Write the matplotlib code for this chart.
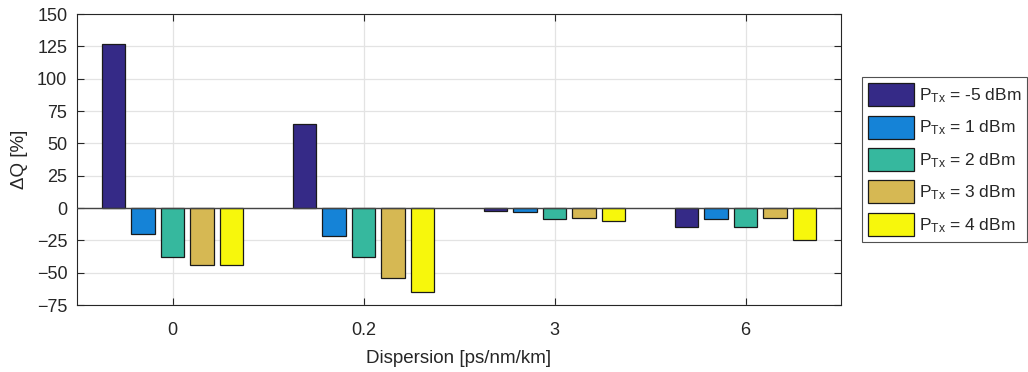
import numpy as np
import matplotlib.pyplot as plt

plt.rcParams['font.family'] = ['Liberation Sans', 'DejaVu Sans']
plt.rcParams['mathtext.fontset'] = 'custom'
plt.rcParams['mathtext.rm'] = 'Liberation Sans'
plt.rcParams['mathtext.it'] = 'Liberation Sans:italic'

# data
dispersion = ['0', '0.2', '3', '6']
ptx_labels = ['-5', '1', '2', '3', '4']
dq_m5 = [127, 65, -2.6, -14.7]
dq_1 = [-20, -22, -2.8, -8.2]
dq_2 = [-38, -38, -8.2, -14.7]
dq_3 = [-44, -54, -7.5, -7.5]
dq_4 = [-44, -65, -10, -24.5]
series = [dq_m5, dq_1, dq_2, dq_3, dq_4]
colors = ['#352a87', '#1583d7', '#36b89e', '#d6b853', '#f7f70c']

txt = '#262626'
fig = plt.figure(figsize=(10.28, 3.72), dpi=100)
ax = fig.add_axes([77 / 1028, 1 - 305 / 372, (841 - 77) / 1028, (305 - 14) / 372])

x = np.arange(len(dispersion))
step = 0.154
width = 0.122
for i, (vals, c) in enumerate(zip(series, colors)):
    ax.bar(x + (i - 2) * step, vals, width, color=c, edgecolor='#1a1a1a',
           linewidth=0.9, zorder=3,
           label=r'P$_{\mathrm{Tx}}$ = ' + ptx_labels[i] + ' dBm')

ax.axhline(0, color='#444444', linewidth=1.0, zorder=4)
ax.set_xlim(-0.5, 3.5)
ax.set_ylim(-75, 150)
ax.set_yticks(np.arange(-75, 151, 25))
ax.set_xticks(x)
ax.set_xticklabels(dispersion)
ax.grid(True, color='#e3e3e3', linewidth=0.9, zorder=0)
ax.set_axisbelow(True)
ax.tick_params(axis='both', direction='in', labelsize=13, colors=txt,
               length=5, width=0.8, top=True, right=True, pad=7)
ax.tick_params(axis='x', pad=12)
for s in ax.spines.values():
    s.set_color('#262626')
    s.set_linewidth(0.8)
ax.set_xlabel('Dispersion [ps/nm/km]', fontsize=13.5, color=txt, labelpad=8)
ax.set_ylabel('ΔQ [%]', fontsize=13.5, color=txt, labelpad=6)

leg = ax.legend(loc='upper left', bbox_to_anchor=(1.028, 0.783), fontsize=12.5,
                frameon=True, fancybox=False, edgecolor='#262626',
                handlelength=2.65, handleheight=1.65, handletextpad=0.25,
                labelspacing=0.55, borderpad=0.35, borderaxespad=0)
leg.get_frame().set_linewidth(0.8)
for t in leg.get_texts():
    t.set_color(txt)

fig.savefig('out.png', dpi=100)
